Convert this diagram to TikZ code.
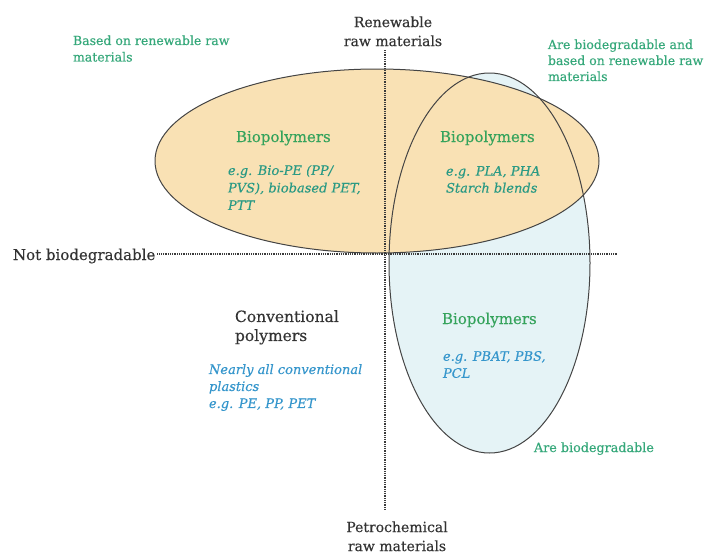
\documentclass[tikz,border=0pt]{standalone}
\usepackage{fontspec}
\setmainfont{DejaVu Serif}[FakeBold=0.3]
\usetikzlibrary{calc}
\definecolor{orfill}{HTML}{F9E1B4}
\definecolor{blfill}{HTML}{E5F3F6}
\definecolor{outl}{HTML}{444444}
\definecolor{dotc}{HTML}{3A3A3A}
\definecolor{txtdark}{HTML}{333333}
\definecolor{gtitle}{HTML}{35A35C}
\definecolor{gcorner}{HTML}{35A87A}
\definecolor{teal}{HTML}{2A9A84}
\definecolor{bltxt}{HTML}{3596CC}
\tikzset{
  lbl/.style={inner sep=0pt, outer sep=0pt, align=left},
  axislbl/.style={lbl, text=txtdark, font=\fontsize{14}{19}\selectfont, align=center},
  corner/.style={lbl, text=gcorner, font=\fontsize{12.5}{16.5}\selectfont},
  biotitle/.style={lbl, text=gtitle, font=\fontsize{15}{19}\selectfont},
  examp/.style={lbl, font=\fontsize{13}{17.5}\selectfont\itshape},
  axisline/.style={draw=dotc, line width=1.2pt, dash pattern=on 0.9pt off 0.9pt},
  ell/.style={draw=outl, line width=1pt}
}
\begin{document}
\begin{tikzpicture}[x=1pt,y=-1pt]
\useasboundingbox[fill=white] (0,0) rectangle (704,554);
% ellipses
\coordinate (oc) at (377,161);
\coordinate (bc) at (489.5,263);
\fill[blfill] (bc) ellipse [x radius=100.5pt, y radius=190pt];
\fill[orfill] (oc) ellipse [x radius=222pt, y radius=92pt];
\draw[ell] (bc) ellipse [x radius=100.5pt, y radius=190pt];
\draw[ell] (oc) ellipse [x radius=222pt, y radius=92pt];
% axis labels
\node[axislbl, anchor=north] (renew) at (393,16.4) {Renewable\\raw materials};
\node[axislbl, anchor=north] (petro) at (397,521.4) {Petrochemical\\raw materials};
\node[lbl, anchor=base west, text=txtdark, font=\fontsize{15}{19}\selectfont] (notbio) at (13,260) {Not biodegradable};
% axes
\coordinate (vtop) at (385,50);
\coordinate (vbot) at (385,510);
\coordinate (hend) at (617,254);
\draw[axisline] (vtop) -- (vbot);
\draw[axisline] (notbio.east |- hend) ++(2,0) -- (hend);
% corner labels
\node[corner, anchor=north west] (basedren) at (73,35.5) {Based on renewable raw\\materials};
\node[corner, anchor=north west, font=\fontsize{12.5}{16}\selectfont] (areand) at (548,39.5) {Are biodegradable and\\based on renewable raw\\materials};
\node[corner, anchor=base west, font=\fontsize{12.75}{16}\selectfont] (arebio) at (534,452) {Are biodegradable};
% biopolymers
\node[biotitle, anchor=base west] (bioL) at (236,142) {Biopolymers};
\node[examp, text=teal, anchor=north west] (egL) at (228,165.1) {e.g. Bio-PE (PP/\\PVS), biobased PET,\\PTT};
\node[biotitle, anchor=base west] (bioR) at (440,142) {Biopolymers};
\node[examp, text=teal, anchor=north west, font=\fontsize{13}{17}\selectfont\itshape] (egR) at (446,166.1) {e.g. PLA, PHA\\Starch blends};
\node[biotitle, anchor=base west] (bioB) at (442,324) {Biopolymers};
\node[examp, text=bltxt, anchor=north west, font=\fontsize{13}{17}\selectfont\itshape] (egB) at (443,351.1) {e.g. PBAT, PBS,\\PCL};
% conventional
\node[lbl, anchor=north west, text=txtdark, font=\fontsize{15.5}{19}\selectfont] (conv) at (235,310.2) {Conventional\\polymers};
\node[examp, text=bltxt, anchor=north west, font=\fontsize{13}{17}\selectfont\itshape] (nearly) at (209,364.1) {Nearly all conventional\\plastics\\e.g. PE, PP, PET};
\end{tikzpicture}
\end{document}
